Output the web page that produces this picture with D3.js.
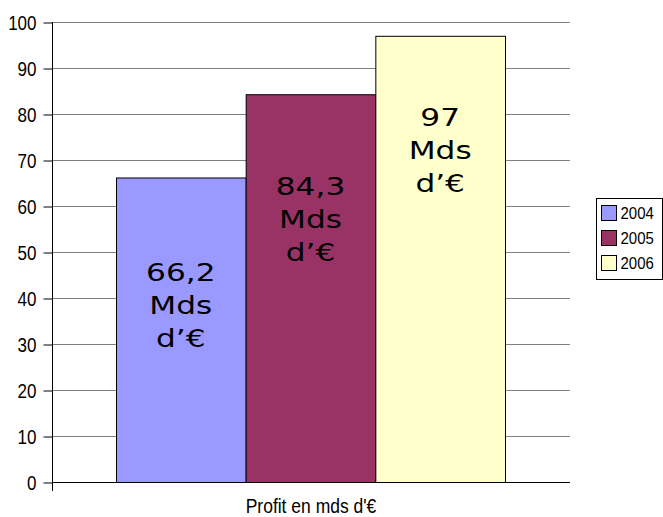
<!DOCTYPE html>
<html>
<head>
<script src="https://d3js.org/d3.v7.min.js"></script>
<style>
  body { margin: 0; background: #fff; }
</style>
</head>
<body>
<script>
// chart data
var years = ['2004', '2005', '2006'];
var profits = [66.2, 84.3, 97];
var barLabels = [['66,2', 'Mds', 'd\u2019\u20ac'], ['84,3', 'Mds', 'd\u2019\u20ac'], ['97', 'Mds', 'd\u2019\u20ac']];
var colors = ['#9999ff', '#993366', '#ffffcc'];
var yTicks = [0, 10, 20, 30, 40, 50, 60, 70, 80, 90, 100];
var xTitle = "Profit en mds d'\u20ac";

var width = 663, height = 517;
var plotLeft = 52, plotRight = 570, plotTop = 22, plotBottom = 482;
var sansFont = 'Liberation Sans, Arial, sans-serif';

var svg = d3.select('body').append('svg')
  .attr('width', width)
  .attr('height', height);

var y = d3.scaleLinear().domain([0, 100]).range([plotBottom, plotTop]);
var x = d3.scaleBand().domain(years).range([116, 505]).padding(0);

// grid
svg.append('g').selectAll('line')
  .data(yTicks.filter(function(d) { return d > 0; }))
  .enter().append('line')
  .attr('x1', plotLeft).attr('x2', plotRight)
  .attr('y1', function(d) { return y(d) + 0.5; })
  .attr('y2', function(d) { return y(d) + 0.5; })
  .attr('stroke', '#808080')
  .attr('stroke-width', 1);

// bars
svg.append('g').selectAll('rect')
  .data(profits)
  .enter().append('rect')
  .attr('x', function(d, i) { return x(years[i]) + 0.5; })
  .attr('width', x.bandwidth())
  .attr('y', function(d) { return y(d) + 0.5; })
  .attr('height', function(d) { return plotBottom - y(d); })
  .attr('fill', function(d, i) { return colors[i]; })
  .attr('stroke', '#000')
  .attr('stroke-width', 1);

// bar labels (wide lettering, stretched horizontally)
var labelOffset = [104, 101, 90];
var lbl = svg.append('g').selectAll('text')
  .data(barLabels)
  .enter().append('text')
  .attr('text-anchor', 'middle')
  .attr('font-family', 'DejaVu Sans, Verdana, sans-serif')
  .attr('font-size', 24)
  .attr('fill', '#000')
  .attr('transform', function(d, i) {
    var cx = x(years[i]) + x.bandwidth() / 2;
    var cy = y(profits[i]) + labelOffset[i];
    return 'translate(' + cx + ',' + cy + ') scale(1.3,1)';
  });
lbl.selectAll('tspan')
  .data(function(d) { return d; })
  .enter().append('tspan')
  .attr('x', 0)
  .attr('dy', function(d, j) { return j === 0 ? 0 : 33; })
  .text(function(d) { return d; });

// y axis
var yAxis = d3.axisLeft(y).tickValues(yTicks).tickSize(9).tickPadding(7);
var ga = svg.append('g')
  .attr('transform', 'translate(' + (plotLeft + 0.5) + ',0.5)')
  .call(yAxis);
ga.select('.domain').remove();
ga.selectAll('text')
  .attr('font-family', sansFont)
  .attr('font-size', 17)
  .attr('fill', '#000')
  .attr('dy', null)
  .attr('y', 0)
  .attr('transform', 'scale(1,1.17) translate(0,6)');
ga.selectAll('line').attr('stroke', '#000');

svg.append('line')
  .attr('x1', plotLeft + 0.5).attr('x2', plotLeft + 0.5)
  .attr('y1', plotTop).attr('y2', plotBottom + 9)
  .attr('stroke', '#000');
svg.append('line')
  .attr('x1', plotLeft).attr('x2', plotRight)
  .attr('y1', plotBottom + 0.5).attr('y2', plotBottom + 0.5)
  .attr('stroke', '#000');

// x title
svg.append('text')
  .attr('text-anchor', 'middle')
  .attr('font-family', sansFont)
  .attr('font-size', 17.5)
  .attr('transform', 'translate(' + ((plotLeft + plotRight) / 2) + ',513) scale(1,1.2)')
  .text(xTitle);

// legend
var lg = svg.append('g').attr('transform', 'translate(596.5,198.5)');
lg.append('rect')
  .attr('width', 66).attr('height', 81)
  .attr('fill', '#fff').attr('stroke', '#000');
var items = lg.selectAll('g.item')
  .data(years)
  .enter().append('g')
  .attr('transform', function(d, i) { return 'translate(5,' + (7 + i * 25) + ')'; });
items.append('rect')
  .attr('width', 15).attr('height', 15)
  .attr('fill', function(d, i) { return colors[i]; })
  .attr('stroke', '#000');
items.append('text')
  .attr('font-family', sansFont)
  .attr('font-size', 15)
  .attr('transform', 'translate(19,13) scale(1,1.15)')
  .text(function(d) { return d; });
</script>
</body>
</html>
